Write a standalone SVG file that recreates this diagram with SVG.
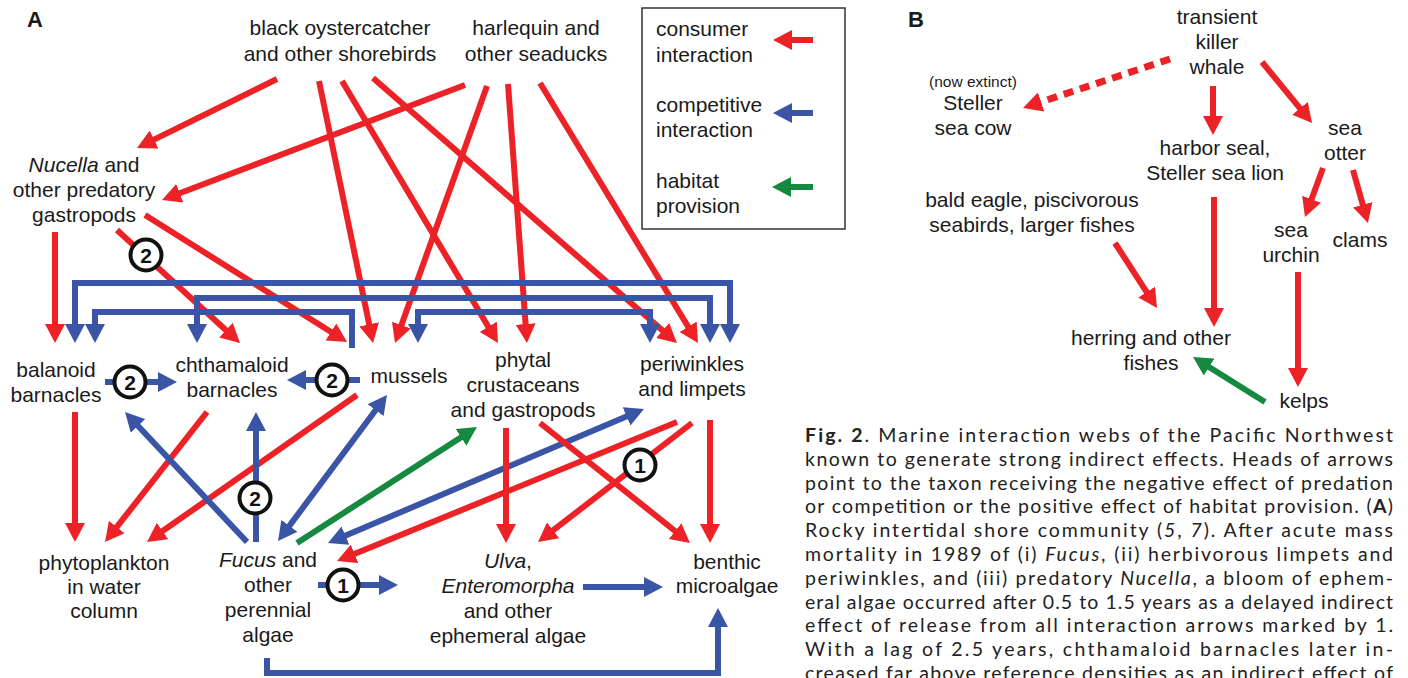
<svg xmlns="http://www.w3.org/2000/svg" width="1408" height="678" viewBox="0 0 1408 678">
<style>
text{font-family:"Liberation Sans",Arial,sans-serif;font-size:21px;fill:#1a1a1a}
.m{text-anchor:middle}
.i{font-style:italic}
.lab{font-weight:bold;font-size:22px}
.sm{font-size:15.5px}
.cap{font-family:Lato,"Noto Sans",sans-serif;font-size:19.5px;fill:#222}
.bd{font-weight:bold}
.c{fill:none;stroke-width:6;stroke-linejoin:miter}
.r{stroke:#ec2227}
.b{stroke:#3b55a6}
.g{stroke:#15893f}
.re{marker-end:url(#mr)}
.be{marker-end:url(#mb)}
.bb{marker-start:url(#mb);marker-end:url(#mb)}
.ge{marker-end:url(#mg)}
.badge circle{fill:#fff;stroke:#111;stroke-width:4}
.badge text{font-weight:bold;font-size:21px;text-anchor:middle;fill:#111}
.leg{fill:none;stroke:#333;stroke-width:1.5}
</style>
<defs>
<marker id="mr" viewBox="0 0 19 20" refX="3" refY="10" markerWidth="19" markerHeight="20" markerUnits="userSpaceOnUse" orient="auto-start-reverse"><path d="M0,0 L19,10 L0,20 z" fill="#ec2227"/></marker>
<marker id="mb" viewBox="0 0 19 20" refX="3" refY="10" markerWidth="19" markerHeight="20" markerUnits="userSpaceOnUse" orient="auto-start-reverse"><path d="M0,0 L19,10 L0,20 z" fill="#3b55a6"/></marker>
<marker id="mg" viewBox="0 0 19 20" refX="3" refY="10" markerWidth="19" markerHeight="20" markerUnits="userSpaceOnUse" orient="auto-start-reverse"><path d="M0,0 L19,10 L0,20 z" fill="#15893f"/></marker>
</defs>
<rect width="1408" height="678" fill="#fff"/>

<text class="lab" x="27" y="27">A</text>
<text class="lab" x="908" y="27">B</text>

<g id="legend">
<rect class="leg" x="642" y="8" width="203" height="221"/>
<text x="656" y="36">consumer</text><text x="656" y="62">interaction</text>
<text x="656" y="112">competitive</text><text x="656" y="137">interaction</text>
<text x="656" y="188">habitat</text><text x="656" y="213">provision</text>
<path class="c r re" d="M813,40 H789"/>
<path class="c b be" d="M813,113 H789"/>
<path class="c g ge" d="M813,187 H788"/>
</g>

<g id="connectors">
<!-- panel A consumer -->
<path class="c r re" d="M277,79 L151.4,140.9"/>
<path class="c r re" d="M465,85 L177,194.3"/>
<path class="c r re" d="M319,81 L369.8,327.3"/>
<path class="c r re" d="M342,81 L489.8,329.3"/>
<path class="c r re" d="M373,78 L664.9,332.5"/>
<path class="c r re" d="M487,86 L400.4,327.9"/>
<path class="c r re" d="M508,84 L525.8,327"/>
<path class="c r re" d="M540,83 L689.7,329.3"/>
<path class="c r re" d="M55,232 L55,327"/>
<path class="c r re" d="M117,230 L228.2,332.2"/>
<path class="c r re" d="M145,215 L333.5,333.5"/>
<!-- competitive brackets -->
<path class="c b bb" d="M75,327 V283 H730 V327"/>
<path class="c b bb" d="M197,327 V298 H710 V327"/>
<path class="c b be" d="M352,348 V312 H95 V327"/>
<path class="c b bb" d="M418,327 V312 H650 V327"/>
<path class="c b be" d="M105,382 H161"/>
<path class="c b be" d="M360,380 H303"/>
<path class="c r re" d="M75,412 L75,526"/>
<path class="c r re" d="M207,412 L114.9,529.4"/>
<path class="c r re" d="M357,395 L160.1,532.8"/>
<path class="c b be" d="M247,542 L136,423.7"/>
<path class="c b be" d="M256,542 V428"/>
<path class="c b bb" d="M287.6,528.2 L377.4,407.8"/>
<path class="c g ge" d="M297,543 L463.5,435.7"/>
<path class="c b bb" d="M342.7,536.8 L629.3,415.2"/>
<path class="c r re" d="M677,422 L351.8,555"/>
<path class="c r re" d="M692,423 L550.7,532.2"/>
<path class="c r re" d="M506,428 V527"/>
<path class="c r re" d="M540,423 L677.5,533"/>
<path class="c r re" d="M710,420 V527"/>
<path class="c b be" d="M318,585 H382"/>
<path class="c b be" d="M583,587 H647"/>
<path class="c b be" d="M267,658 V673 H718 V624"/>
<!-- badges -->
<g class="badge"><circle cx="146" cy="255" r="15.5"/><text x="146" y="262.5">2</text></g>
<g class="badge"><circle cx="130" cy="382" r="15.5"/><text x="130" y="389.5">2</text></g>
<g class="badge"><circle cx="332" cy="380" r="15.5"/><text x="332" y="387.5">2</text></g>
<g class="badge"><circle cx="255" cy="498" r="15.5"/><text x="255" y="505.5">2</text></g>
<g class="badge"><circle cx="343" cy="585" r="15.5"/><text x="343" y="592.5">1</text></g>
<g class="badge"><circle cx="640" cy="465" r="15.5"/><text x="640" y="472.5">1</text></g>
<!-- panel B -->
<path class="r re" d="M1170,59 L1038.2,102.9" fill="none" stroke-width="7" stroke-dasharray="10 7"/>
<path class="c r re" d="M1213,86 V119"/>
<path class="c r re" d="M1262,62 L1301.9,110.6"/>
<path class="c r re" d="M1323,168 L1310.5,202"/>
<path class="c r re" d="M1353,170 L1363.6,207.6"/>
<path class="c r re" d="M1214,197 V311"/>
<path class="c r re" d="M1298,272 V371"/>
<path class="c r re" d="M1115,243 L1148.3,294.6"/>
<path class="c g ge" d="M1265,402 L1206.6,365.5"/>
</g>

<g id="shorebirds"><text class="m" x="340" y="35">black oystercatcher</text><text class="m" x="340" y="61">and other shorebirds</text></g>
<g id="seaducks"><text class="m" x="536" y="35">harlequin and</text><text class="m" x="536" y="61">other seaducks</text></g>
<g id="nucella"><text class="m" x="84" y="172"><tspan class="i">Nucella</tspan> and</text><text class="m" x="84" y="197">other predatory</text><text class="m" x="84" y="222">gastropods</text></g>
<g id="balanoid"><text class="m" x="56" y="377">balanoid</text><text class="m" x="56" y="402">barnacles</text></g>
<g id="chthamaloid"><text class="m" x="232" y="372">chthamaloid</text><text class="m" x="232" y="397">barnacles</text></g>
<g id="mussels"><text class="m" x="409" y="383">mussels</text></g>
<g id="phytal"><text class="m" x="523" y="367">phytal</text><text class="m" x="523" y="392">crustaceans</text><text class="m" x="523" y="417">and gastropods</text></g>
<g id="periwinkles"><text class="m" x="692" y="371">periwinkles</text><text class="m" x="692" y="396">and limpets</text></g>
<g id="phytoplankton"><text class="m" x="104" y="570">phytoplankton</text><text class="m" x="104" y="594">in water</text><text class="m" x="104" y="618">column</text></g>
<g id="fucus"><text class="m" x="268" y="567"><tspan class="i">Fucus</tspan> and</text><text class="m" x="268" y="592">other</text><text class="m" x="268" y="617">perennial</text><text class="m" x="268" y="642">algae</text></g>
<g id="ulva"><text class="m" x="508" y="568"><tspan class="i">Ulva</tspan>,</text><text class="m i" x="508" y="593">Enteromorpha</text><text class="m" x="508" y="618">and other</text><text class="m" x="508" y="643">ephemeral algae</text></g>
<g id="benthic"><text class="m" x="727" y="569">benthic</text><text class="m" x="727" y="593">microalgae</text></g>

<g id="killerwhale"><text class="m" x="1217" y="24">transient</text><text class="m" x="1217" y="49">killer</text><text class="m" x="1217" y="74">whale</text></g>
<g id="seacow"><text class="m sm" x="973" y="87">(now extinct)</text><text class="m" x="973" y="110">Steller</text><text class="m" x="973" y="135">sea cow</text></g>
<g id="harborseal"><text class="m" x="1215" y="155">harbor seal,</text><text class="m" x="1215" y="180">Steller sea lion</text></g>
<g id="seaotter"><text class="m" x="1345" y="135">sea</text><text class="m" x="1345" y="160">otter</text></g>
<g id="seaurchin"><text class="m" x="1291" y="237">sea</text><text class="m" x="1291" y="262">urchin</text></g>
<g id="clams"><text class="m" x="1360" y="247">clams</text></g>
<g id="baldeagle"><text class="m" x="1032" y="207">bald eagle, piscivorous</text><text class="m" x="1032" y="232">seabirds, larger fishes</text></g>
<g id="herring"><text class="m" x="1151" y="345">herring and other</text><text class="m" x="1151" y="370">fishes</text></g>
<g id="kelps"><text class="m" x="1304" y="408">kelps</text></g>

<g id="caption">
<text class="cap" x="805" y="442" textLength="588" lengthAdjust="spacing"><tspan class="bd">Fig. 2</tspan>. Marine interaction webs of the Pacific Northwest</text>
<text class="cap" x="805" y="465.8" textLength="588" lengthAdjust="spacing">known to generate strong indirect effects. Heads of arrows</text>
<text class="cap" x="805" y="489.6" textLength="588" lengthAdjust="spacing">point to the taxon receiving the negative effect of predation</text>
<text class="cap" x="805" y="513.4" textLength="588" lengthAdjust="spacing">or competition or the positive effect of habitat provision. (<tspan class="bd">A</tspan>)</text>
<text class="cap" x="805" y="537.2" textLength="588" lengthAdjust="spacing">Rocky intertidal shore community (<tspan class="i">5</tspan>, <tspan class="i">7</tspan>). After acute mass</text>
<text class="cap" x="805" y="561" textLength="588" lengthAdjust="spacing">mortality in 1989 of (i) <tspan class="i">Fucus</tspan>, (ii) herbivorous limpets and</text>
<text class="cap" x="805" y="584.8" textLength="588" lengthAdjust="spacing">periwinkles, and (iii) predatory <tspan class="i">Nucella</tspan>, a bloom of ephem-</text>
<text class="cap" x="805" y="608.6" textLength="588" lengthAdjust="spacing">eral algae occurred after 0.5 to 1.5 years as a delayed indirect</text>
<text class="cap" x="805" y="632.4" textLength="588" lengthAdjust="spacing">effect of release from all interaction arrows marked by 1.</text>
<text class="cap" x="805" y="656.2" textLength="588" lengthAdjust="spacing">With a lag of 2.5 years, chthamaloid barnacles later in-</text>
<text class="cap" x="805" y="680" textLength="588" lengthAdjust="spacing">creased far above reference densities as an indirect effect of</text>
</g>
</svg>
